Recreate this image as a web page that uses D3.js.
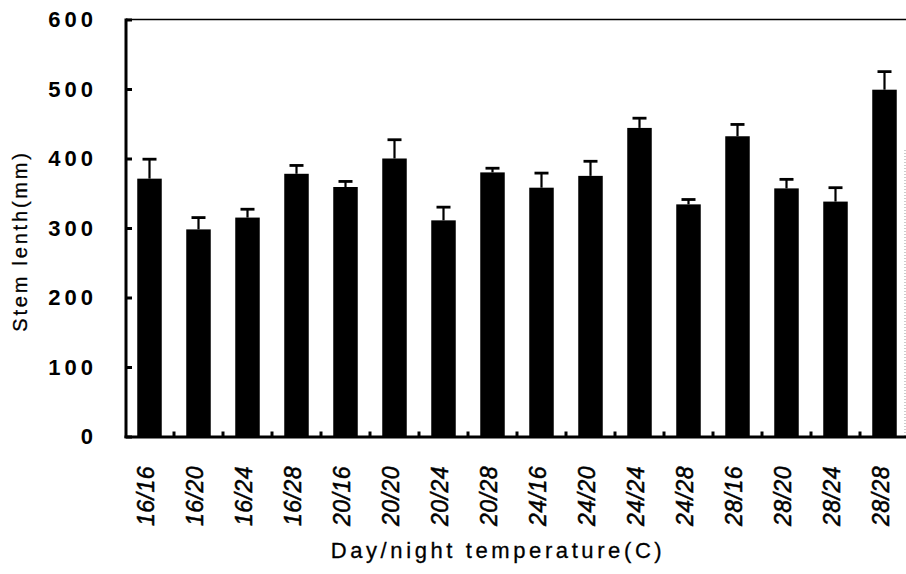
<!DOCTYPE html>
<html>
<head>
<meta charset="utf-8">
<script src="https://cdn.jsdelivr.net/npm/d3@7"></script>
<style>
  body { margin: 0; background: #fff; }
  svg { display: block; }
  text { font-family: "Liberation Sans", Arial, sans-serif; fill: #000; }
</style>
</head>
<body>
<svg id="chart"></svg>
<script>
var WIDTH = 906;
var HEIGHT = 574;

// day/night temperature treatments
var CATEGORIES = ["16/16", "16/20", "16/24", "16/28", "20/16", "20/20", "20/24", "20/28",
                  "24/16", "24/20", "24/24", "24/28", "28/16", "28/20", "28/24", "28/28"];
// mean stem length (mm)
var MEANS = [371, 298, 315, 378, 359, 400, 311, 380, 358, 375, 444, 334, 432, 357, 338, 499];
// standard error (upper whisker only)
var ERRORS = [28, 17, 12, 12, 8, 27, 19, 6, 21, 21, 14, 7, 17, 13, 20, 26];
var Y_TICKS = [0, 100, 200, 300, 400, 500, 600];

var LEFT = 126, TOP = 19.5, BOTTOM = 436.5;

var svg = d3.select("#chart").attr("width", WIDTH).attr("height", HEIGHT);

var x = d3.scaleBand()
  .domain(CATEGORIES)
  .range([125, 909])
  .paddingInner(0.5)
  .paddingOuter(0.25);

var y = d3.scaleLinear()
  .domain([0, 600])
  .range([BOTTOM, TOP]);

var data = CATEGORIES.map(function (c, i) {
  return { cat: c, mean: MEANS[i], err: ERRORS[i] };
});

// bars
svg.selectAll(".bar")
  .data(data)
  .enter().append("rect")
  .attr("class", "bar")
  .attr("x", function (d) { return x(d.cat); })
  .attr("width", x.bandwidth())
  .attr("y", function (d) { return y(d.mean); })
  .attr("height", function (d) { return y(0) - y(d.mean); })
  .attr("fill", "#000");

// error bars (upper only)
var eb = svg.selectAll(".err")
  .data(data)
  .enter().append("g")
  .attr("class", "err")
  .attr("transform", function (d) { return "translate(" + (x(d.cat) + x.bandwidth() / 2) + ",0)"; });
eb.append("line")
  .attr("x1", 0).attr("x2", 0)
  .attr("y1", function (d) { return y(d.mean); })
  .attr("y2", function (d) { return y(d.mean + d.err); })
  .attr("stroke", "#000").attr("stroke-width", 2.2);
eb.append("line")
  .attr("x1", -7).attr("x2", 7)
  .attr("y1", function (d) { return y(d.mean + d.err); })
  .attr("y2", function (d) { return y(d.mean + d.err); })
  .attr("stroke", "#000").attr("stroke-width", 2.8);

// frame: top line
svg.append("line")
  .attr("x1", LEFT).attr("x2", WIDTH)
  .attr("y1", y(600)).attr("y2", y(600))
  .attr("stroke", "#000").attr("stroke-width", 1.6);

// faint right edge
svg.append("line")
  .attr("x1", 905).attr("x2", 905)
  .attr("y1", 150).attr("y2", BOTTOM)
  .attr("stroke", "#999").attr("stroke-width", 1)
  .attr("stroke-dasharray", "1,2");

// y axis
var yAxis = d3.axisRight(y).tickValues(Y_TICKS).tickSize(6).tickFormat("");
var gy = svg.append("g")
  .attr("transform", "translate(" + LEFT + ",0)")
  .call(yAxis);
gy.select(".domain").remove();
gy.selectAll(".tick line").attr("stroke", "#000").attr("stroke-width", 3);
gy.append("line")
  .attr("x1", 0).attr("x2", 0)
  .attr("y1", y(600) - 1).attr("y2", BOTTOM + 1.5)
  .attr("stroke", "#000").attr("stroke-width", 3);

svg.selectAll(".ylab")
  .data(Y_TICKS)
  .enter().append("text")
  .attr("class", "ylab")
  .attr("x", 97)
  .attr("y", function (d) { return y(d); })
  .attr("dy", "0.36em")
  .attr("text-anchor", "end")
  .attr("font-size", 22)
  .attr("font-weight", "bold")
  .attr("letter-spacing", 4)
  .text(function (d) { return d; });

// x axis line
svg.append("line")
  .attr("x1", LEFT - 1.5).attr("x2", WIDTH)
  .attr("y1", BOTTOM + 0.5).attr("y2", BOTTOM + 0.5)
  .attr("stroke", "#000").attr("stroke-width", 3);

// small x ticks between bars (band boundaries)
var step = x.step();
var boundaries = CATEGORIES.slice(1).map(function (c) {
  return x(c) - x.paddingInner() * step / 2;
});
svg.selectAll(".xtick")
  .data(boundaries)
  .enter().append("line")
  .attr("class", "xtick")
  .attr("x1", function (d) { return d; })
  .attr("x2", function (d) { return d; })
  .attr("y1", BOTTOM)
  .attr("y2", BOTTOM - 5)
  .attr("stroke", "#000").attr("stroke-width", 3);

// x tick labels (rotated, oblique)
svg.selectAll(".xlab")
  .data(CATEGORIES)
  .enter().append("text")
  .attr("class", "xlab")
  .attr("transform", function (d) {
    return "translate(" + (x(d) + x.bandwidth() / 2 + 4) + ",466) rotate(-90)";
  })
  .attr("text-anchor", "end")
  .attr("font-size", 23)
  .attr("font-style", "italic")
  .attr("stroke", "#000")
  .attr("stroke-width", 0.5)
  .attr("letter-spacing", 0.5)
  .text(function (d) { return d; });

// axis titles
svg.append("text")
  .attr("x", 498)
  .attr("y", 558)
  .attr("text-anchor", "middle")
  .attr("font-size", 22)
  .attr("stroke", "#000")
  .attr("stroke-width", 0.3)
  .attr("letter-spacing", 3.6)
  .text("Day/night temperature(C)");

svg.append("text")
  .attr("transform", "translate(27,241) rotate(-90)")
  .attr("text-anchor", "middle")
  .attr("font-size", 20)
  .attr("stroke", "#000")
  .attr("stroke-width", 0.3)
  .attr("letter-spacing", 2.8)
  .text("Stem lenth(mm)");
</script>
</body>
</html>
